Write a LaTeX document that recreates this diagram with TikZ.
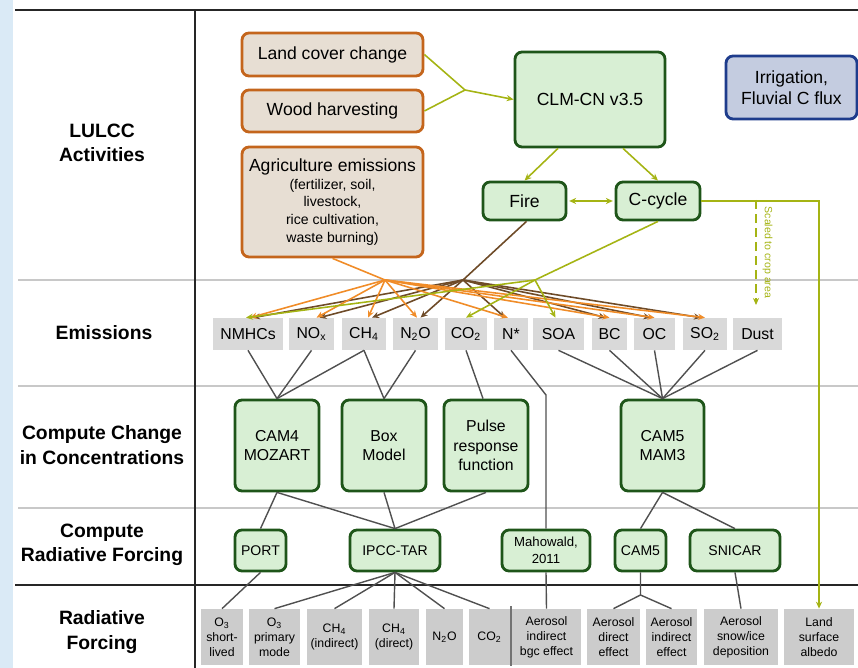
\documentclass[tikz,border=0pt]{standalone}
\usepackage{fontspec}
\setmainfont{Liberation Sans}
\usetikzlibrary{arrows.meta}

\definecolor{slideblue}{RGB}{218,234,246}
\definecolor{agribrown}{RGB}{196,101,28}
\definecolor{agrifill}{RGB}{231,222,211}
\definecolor{modelgreen}{RGB}{30,85,25}
\definecolor{modelfill}{RGB}{216,239,212}
\definecolor{irrigblue}{RGB}{30,60,140}
\definecolor{irrigfill}{RGB}{196,204,224}
\definecolor{olive}{RGB}{165,180,20}
\definecolor{agriorange}{RGB}{240,140,40}
\definecolor{firebrown}{RGB}{110,75,40}
\definecolor{gasgray}{RGB}{217,217,217}
\definecolor{rfgray}{RGB}{204,204,204}
\definecolor{linkgray}{RGB}{80,80,80}
\definecolor{sepgray}{RGB}{200,200,200}

\newcommand{\agrismall}{\fontsize{8}{10}\selectfont}

\begin{document}
\begin{tikzpicture}[x=0.02cm, y=-0.02cm,
	activity/.style={draw=agribrown, fill=agrifill, line width=1.6pt, rounded corners=4pt, align=center, inner sep=1pt, font=\fontsize{10}{12}\selectfont},
	model/.style={draw=modelgreen, fill=modelfill, line width=1.6pt, rounded corners=4pt, align=center, inner sep=1pt, font=\fontsize{9}{11}\selectfont},
	gas/.style={fill=gasgray, inner sep=1pt, minimum height=0.64cm, font=\fontsize{9}{10}\selectfont},
	forcing/.style={fill=rfgray, inner sep=1pt, minimum height=1.12cm, align=center, font=\fontsize{7}{8.5}\selectfont},
	rowlabel/.style={align=center, font=\bfseries\fontsize{11}{14}\selectfont},
	link/.style={draw=linkgray, line width=0.8pt},
	tip/.style={-{Stealth[length=4pt, width=3.5pt]}},
	agrifeed/.style={agriorange, line width=0.9pt, tip},
	firefeed/.style={firebrown, line width=0.9pt, tip},
	cyclefeed/.style={olive, line width=0.9pt, tip},
	sep/.style={sepgray, line width=1.1pt},
	frame/.style={black!85, line width=1pt}]
	\useasboundingbox (0,0) rectangle (858,668);
	% Frame and rows
	\fill[slideblue] (0,0) rectangle (13,668);
	\draw[sep] (18,280) -- (858,280);
	\draw[sep] (18,386) -- (858,386);
	\draw[sep] (18,508) -- (858,508);
	\draw[frame] (15,10) -- (858,10);
	\draw[frame] (15,585) -- (858,585);
	\draw[frame] (195,10) -- (195,668);
	% Row labels
	\node[rowlabel] (lulcc) at (102,143) {LULCC\\Activities};
	\node[rowlabel] (emis) at (104,333) {Emissions};
	\node[rowlabel] (conc) at (102,445) {Compute Change\\in Concentrations};
	\node[rowlabel] (crf) at (102,545) {Compute\\Radiative Forcing};
	\node[rowlabel] (rf) at (102,632) {Radiative\\Forcing};
	% LULCC activities
	\node[activity, minimum width=3.62cm, minimum height=0.86cm] (land) at (332.5,54.5) {Land cover change};
	\node[activity, minimum width=3.62cm, minimum height=0.84cm] (wood) at (332.5,111) {Wood harvesting};
	\node[activity, minimum width=3.62cm, minimum height=2.2cm, font=\fontsize{10}{10}\selectfont] (agri) at (332.5,202) {Agriculture emissions\\\agrismall(fertilizer, soil,\\\agrismall livestock,\\\agrismall rice cultivation,\\\agrismall waste burning)};
	\node[model, minimum width=3.0cm, minimum height=1.9cm, font=\fontsize{10}{12}\selectfont] (clm) at (590,99.5) {CLM-CN v3.5};
	\node[model, minimum width=1.66cm, minimum height=0.76cm, font=\fontsize{10}{12}\selectfont] (fire) at (524.5,201) {Fire};
	\node[model, minimum width=1.68cm, minimum height=0.76cm, font=\fontsize{10}{12}\selectfont] (ccycle) at (658,201) {C-cycle};
	\node[draw=irrigblue, fill=irrigfill, line width=1.6pt, rounded corners=4pt, align=center, inner sep=1pt, font=\fontsize{10}{12}\selectfont, minimum width=2.62cm, minimum height=1.26cm] (irrig) at (791.5,87.5) {Irrigation,\\Fluvial C flux};
	% Emissions
	\node[gas, minimum width=1.4cm] (nmhc) at (248,334) {NMHCs};
	\node[gas, minimum width=0.9cm] (nox) at (311.5,334) {NO\textsubscript{x}};
	\node[gas, minimum width=0.88cm] (ch4) at (364,334) {CH\textsubscript{4}};
	\node[gas, minimum width=0.9cm] (n2o) at (415.5,334) {N\textsubscript{2}O};
	\node[gas, minimum width=0.84cm] (co2) at (466,334) {CO\textsubscript{2}};
	\node[gas, minimum width=0.68cm] (nstar) at (511,334) {N*};
	\node[gas, minimum width=1.02cm] (soa) at (558.5,334) {SOA};
	\node[gas, minimum width=0.7cm] (bc) at (609.5,334) {BC};
	\node[gas, minimum width=0.82cm] (oc) at (654.5,334) {OC};
	\node[gas, minimum width=0.88cm] (so2) at (705,334) {SO\textsubscript{2}};
	\node[gas, minimum width=0.98cm] (dust) at (757.5,334) {Dust};
	% Concentration models
	\node[model, minimum width=1.68cm, minimum height=1.82cm] (cam4) at (277,445.5) {CAM4\\MOZART};
	\node[model, minimum width=1.68cm, minimum height=1.82cm] (boxm) at (384,445.5) {Box\\Model};
	\node[model, minimum width=1.68cm, minimum height=1.82cm] (pulse) at (486,445.5) {Pulse\\response\\function};
	\node[model, minimum width=1.66cm, minimum height=1.82cm] (cam5m) at (662.5,445.5) {CAM5\\MAM3};
	% Radiative forcing models
	\node[model, minimum width=1.02cm, minimum height=0.82cm, font=\fontsize{8}{10}\selectfont] (port) at (260.5,550.5) {PORT};
	\node[model, minimum width=1.8cm, minimum height=0.82cm, font=\fontsize{8}{10}\selectfont] (ipcc) at (395,550.5) {IPCC-TAR};
	\node[model, minimum width=1.76cm, minimum height=0.82cm, font=\fontsize{7.5}{10}\selectfont] (mahow) at (546,550.5) {Mahowald,\\2011};
	\node[model, minimum width=1.02cm, minimum height=0.82cm, font=\fontsize{8}{10}\selectfont] (cam5) at (640.5,550.5) {CAM5};
	\node[model, minimum width=1.8cm, minimum height=0.82cm, font=\fontsize{8}{10}\selectfont] (snicar) at (735,550.5) {SNICAR};
	% Forcing terms
	\node[forcing, minimum width=0.84cm] (o3s) at (222,637) {O\textsubscript{3}\\short-\\lived};
	\node[forcing, minimum width=1.02cm] (o3p) at (274.5,637) {O\textsubscript{3}\\primary\\mode};
	\node[forcing, minimum width=1.1cm] (ch4i) at (334.5,637) {CH\textsubscript{4}\\(indirect)};
	\node[forcing, minimum width=1.0cm] (ch4d) at (394,637) {CH\textsubscript{4}\\(direct)};
	\node[forcing, minimum width=0.74cm] (n2or) at (444.5,637) {N\textsubscript{2}O};
	\node[forcing, minimum width=0.82cm] (co2r) at (489.5,637) {CO\textsubscript{2}};
	\node[forcing, minimum width=1.38cm] (bgc) at (546.5,637) {Aerosol\\indirect\\bgc effect};
	\node[forcing, minimum width=1.06cm] (adir) at (613.5,637) {Aerosol\\direct\\effect};
	\node[forcing, minimum width=1.02cm] (aind) at (671.5,637) {Aerosol\\indirect\\effect};
	\node[forcing, minimum width=1.48cm] (snow) at (741,637) {Aerosol\\snow/ice\\deposition};
	\node[forcing, minimum width=1.4cm] (albedo) at (819,637) {Land\\surface\\albedo};
	\draw[linkgray!80, line width=1pt] (511,606) -- (511,666);
	% Junctions
	\coordinate (landmid) at (465,90);
	\coordinate (agrimid) at (385,280);
	\coordinate (firemid) at (463,280);
	\coordinate (cyclemid) at (535,280);
	\coordinate (nbend) at (546,395);
	\coordinate (cam5split) at (640.5,595);
	\coordinate (croptop) at (756,200);
	\coordinate (cropend) at (756,305);
	% Land model links
	\draw[olive, line width=0.9pt] (land.east) -- (landmid);
	\draw[olive, line width=0.9pt] (wood.east) -- (landmid);
	\draw[cyclefeed] (landmid) -- (clm.west);
	\draw[cyclefeed] ([xshift=-0.64cm]clm.south) -- (fire.north);
	\draw[cyclefeed] ([xshift=0.66cm]clm.south) -- (ccycle.north);
	\draw[olive, line width=0.9pt, {Stealth[length=4pt, width=3.5pt]}-{Stealth[length=4pt, width=3.5pt]}, shorten <=1pt, shorten >=1pt] (fire.east) -- (ccycle.west);
	\draw[cyclefeed] (ccycle.east) -| (albedo.north);
	\draw[olive, line width=1pt, dash pattern=on 5pt off 3pt, tip] (croptop) -- (cropend)
		node[midway, right=0pt, rotate=-90, anchor=south, font=\fontsize{6}{7}\selectfont, text=olive] (croplabel) {Scaled to crop area};
	% Emission sources
	\draw[firebrown, line width=0.9pt] ([xshift=0.04cm]fire.south) -- (firemid);
	\draw[agriorange, line width=0.9pt] (agri.south) -- (agrimid);
	\draw[olive, line width=0.9pt] (ccycle.south) -- (cyclemid);
	\draw[firefeed] (firemid) -- ([xshift=0.1cm]nmhc.north);
	\draw[firefeed] (firemid) -- ([xshift=0.16cm]nox.north);
	\draw[firefeed] (firemid) -- ([xshift=0.16cm]ch4.north);
	\draw[firefeed] (firemid) -- ([xshift=0.1cm]n2o.north);
	\draw[firefeed] (firemid) -- ([xshift=-0.12cm]nstar.north);
	\draw[firefeed] (firemid) -- ([xshift=-0.08cm]bc.north);
	\draw[firefeed] (firemid) -- ([xshift=-0.08cm]oc.north);
	\draw[firefeed] (firemid) -- ([xshift=-0.08cm]so2.north);
	\draw[agrifeed] (agrimid) -- ([xshift=0.04cm]nmhc.north);
	\draw[agrifeed] (agrimid) -- ([xshift=0.1cm]nox.north);
	\draw[agrifeed] (agrimid) -- ([xshift=0.08cm]ch4.north);
	\draw[agrifeed] (agrimid) -- ([xshift=0.03cm]n2o.north);
	\draw[agrifeed] (agrimid) -- ([xshift=-0.06cm]nstar.north);
	\draw[agrifeed] (agrimid) -- (bc.north);
	\draw[agrifeed] (agrimid) -- (oc.north);
	\draw[agrifeed] (agrimid) -- (so2.north);
	\draw[cyclefeed] (cyclemid) -- ([xshift=-0.04cm]nmhc.north);
	\draw[cyclefeed] (cyclemid) -- (co2.north);
	\draw[cyclefeed] (cyclemid) -- ([xshift=-0.06cm]soa.north);
	% Emissions to models
	\draw[link] (nmhc.south) -- (cam4.north);
	\draw[link] (nox.south) -- (cam4.north);
	\draw[link] (ch4.south) -- (cam4.north);
	\draw[link] (ch4.south) -- (boxm.north);
	\draw[link] (n2o.south) -- (boxm.north);
	\draw[link] (co2.south) -- ([xshift=-0.06cm]pulse.north);
	\draw[link] (nstar.south) -- (nbend) -- (mahow.north);
	\draw[link] (soa.south) -- (cam5m.north);
	\draw[link] (bc.south) -- (cam5m.north);
	\draw[link] (oc.south) -- (cam5m.north);
	\draw[link] (so2.south) -- (cam5m.north);
	\draw[link] (dust.south) -- (cam5m.north);
	% Models to forcing tools
	\draw[link] (cam4.south) -- (port.north);
	\draw[link] (cam4.south) -- (ipcc.north);
	\draw[link] (boxm.south) -- (ipcc.north);
	\draw[link] (pulse.south) -- (ipcc.north);
	\draw[link] (cam5m.south) -- (cam5.north);
	\draw[link] (cam5m.south) -- (snicar.north);
	% Tools to forcing terms
	\draw[link] (port.south) -- (o3s.north);
	\draw[link] (ipcc.south) -- (o3p.north);
	\draw[link] (ipcc.south) -- (ch4i.north);
	\draw[link] (ipcc.south) -- (ch4d.north);
	\draw[link] (ipcc.south) -- (n2or.north);
	\draw[link] (ipcc.south) -- (co2r.north);
	\draw[link] (mahow.south) -- (bgc.north);
	\draw[link] (cam5.south) -- (cam5split) -- (adir.north);
	\draw[link] (cam5split) -- (aind.north);
	\draw[link] (snicar.south) -- (snow.north);
\end{tikzpicture}
\end{document}
